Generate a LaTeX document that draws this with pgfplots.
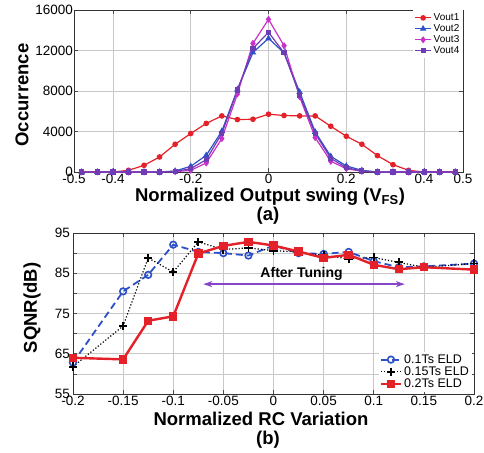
\documentclass[border=0pt]{standalone}
\usepackage{fontspec}
\setmainfont{Liberation Sans}
\usepackage{pgfplots}
\pgfplotsset{compat=1.18}
\usetikzlibrary{arrows.meta}
\definecolor{cred}{RGB}{228,32,40}
\definecolor{cblue}{RGB}{45,80,200}
\definecolor{cmag}{RGB}{200,50,200}
\definecolor{cpur}{RGB}{110,60,180}
\definecolor{carrow}{RGB}{135,70,200}
\definecolor{cgrid}{RGB}{200,200,200}
\begin{document}
\begin{tikzpicture}
\useasboundingbox (0pt,0pt) rectangle (484pt,-452pt);
\pgfplotsset{
  every axis/.append style={
    scale only axis,
    scaled y ticks=false, scaled x ticks=false,
    /pgf/number format/assume math mode=true,
    tick label style={font=\fontsize{13.5}{15}\selectfont},
    grid style={cgrid, line width=0.6pt},
    axis line style={line width=1pt, black!80},
    tick style={black!70, line width=0.6pt},
    major tick length=4pt,
    minor tick length=0pt,
    tick align=inside,
  }
}
\begin{axis}[
  at={(74pt,-172pt)}, anchor=south west,
  width=389pt, height=162pt,
  xmin=-0.5, xmax=0.5, ymin=0, ymax=16000,
  xtick={-0.5,-0.4,-0.2,0,0.2,0.4,0.5},
  xticklabels={-0.5,-0.4,-0.2,0,0.2,0.4,0.5},
  ytick={0,4000,8000,12000,16000},
  yticklabels={0,4000,8000,12000,16000},
  yticklabel style={inner sep=1pt},
  xticklabel style={inner sep=1.5pt},
  grid=major,
  legend style={at={(1,1)}, anchor=north east, draw=none, fill=white,
    font=\fontsize{10}{10}\selectfont, row sep=-1.5pt, inner sep=1.5pt,
    cells={anchor=west}},
  legend image code/.code={\draw[#1] (0pt,0pt) -- (16pt,0pt); \draw[#1] plot coordinates {(8pt,0pt)};},
  every axis plot/.append style={line width=1.2pt},
]
\addplot[cred, mark=*, mark size=2.2pt] coordinates {
(-0.48,0) (-0.44,0) (-0.40,0) (-0.36,165) (-0.32,660) (-0.28,1485) (-0.24,2740)
(-0.20,3800) (-0.16,4800) (-0.12,5540) (-0.08,5180) (-0.04,5210) (0,5710)
(0.04,5580) (0.08,5540) (0.12,5540) (0.16,4520) (0.20,3530) (0.24,2740)
(0.28,1620) (0.32,725) (0.36,165) (0.40,0) (0.44,0) (0.48,0)};
\addlegendentry{Vout1}
\addplot[cblue, mark=triangle*, mark size=2.6pt] coordinates {
(-0.48,0) (-0.44,0) (-0.40,0) (-0.36,0) (-0.32,0) (-0.28,0) (-0.24,100)
(-0.20,560) (-0.16,1650) (-0.12,4030) (-0.08,8150) (-0.04,11800) (0,13200)
(0.04,11770) (0.08,7900) (0.12,3960) (0.16,1550) (0.20,600) (0.24,165)
(0.28,0) (0.32,0) (0.36,0) (0.40,0) (0.44,0) (0.48,0)};
\addlegendentry{Vout2}
\addplot[cmag, mark=diamond*, mark size=2.6pt] coordinates {
(-0.48,0) (-0.44,0) (-0.40,0) (-0.36,0) (-0.32,0) (-0.28,0) (-0.24,30)
(-0.20,165) (-0.16,890) (-0.12,3300) (-0.08,7700) (-0.04,12700) (0,15080)
(0.04,12470) (0.08,7430) (0.12,3400) (0.16,1060) (0.20,330) (0.24,66)
(0.28,0) (0.32,0) (0.36,0) (0.40,0) (0.44,0) (0.48,0)};
\addlegendentry{Vout3}
\addplot[cpur, mark=square*, mark size=2pt] coordinates {
(-0.48,0) (-0.44,0) (-0.40,0) (-0.36,0) (-0.32,0) (-0.28,0) (-0.24,60)
(-0.20,330) (-0.16,1220) (-0.12,3800) (-0.08,8090) (-0.04,12200) (0,13800)
(0.04,11770) (0.08,7600) (0.12,3800) (0.16,1350) (0.20,430) (0.24,100)
(0.28,0) (0.32,0) (0.36,0) (0.40,0) (0.44,0) (0.48,0)};
\addlegendentry{Vout4}
\end{axis}

\begin{axis}[
  at={(73pt,-394pt)}, anchor=south west,
  width=401pt, height=161pt,
  xmin=-0.2, xmax=0.2, ymin=55, ymax=95,
  xtick={-0.2,-0.15,-0.1,-0.05,0,0.05,0.1,0.15,0.2},
  xticklabels={-0.2,-0.15,-0.1,-0.05,0,0.05,0.1,0.15,0.2},
  ytick={55,65,75,85,95},
  yticklabels={55,65,75,85,95},
  minor ytick={60,70,80,90},
  minor tick length=4pt,
  yticklabel style={inner sep=3pt},
  xticklabel style={inner sep=1.5pt},
  grid=both,
  minor grid style={cgrid, line width=0.6pt},
  legend style={at={(0.995,0.01)}, anchor=south east, draw=none, fill=white,
    font=\fontsize{12.5}{13}\selectfont, row sep=-2pt, inner sep=1pt,
    cells={anchor=west}},
  legend image code/.code={\draw[#1] (0pt,0pt) -- (20pt,0pt); \draw[#1] plot coordinates {(10pt,0pt)};},
]
\addplot[cblue, line width=1.8pt, dash pattern=on 7pt off 4pt, mark=o, mark size=3.3pt, mark options={solid, line width=1.6pt}] coordinates {
(-0.2,62.8) (-0.15,80.5) (-0.125,84.6) (-0.1,92.1) (-0.075,90.3) (-0.05,90.0)
(-0.025,89.4) (0,91.9) (0.025,90.0) (0.05,89.8) (0.075,90.3) (0.1,88.0)
(0.125,86.5) (0.15,86.7) (0.2,87.4)};
\addlegendentry{0.1Ts ELD}
\addplot[black, line width=1.2pt, dotted, mark=+, mark size=4.2pt, mark options={solid, line width=1.8pt}] coordinates {
(-0.2,61.8) (-0.15,71.9) (-0.125,88.8) (-0.1,85.3) (-0.075,92.8) (-0.05,90.9)
(-0.025,91.3) (0,90.6) (0.025,90.3) (0.05,89.4) (0.075,88.6) (0.1,88.9)
(0.125,87.7) (0.15,86.5) (0.2,87.4)};
\addlegendentry{0.15Ts ELD}
\addplot[cred, line width=2.4pt, mark=square*, mark size=3pt, mark options={solid}] coordinates {
(-0.2,64.0) (-0.15,63.6) (-0.125,73.2) (-0.1,74.3) (-0.075,89.9) (-0.05,91.8)
(-0.025,92.8) (0,91.9) (0.025,90.4) (0.05,88.8) (0.075,89.6) (0.1,87.1)
(0.125,86.0) (0.15,86.5) (0.2,85.9)};
\addlegendentry{0.2Ts ELD}
\draw[carrow, line width=1.3pt, {Stealth[length=9pt,width=6pt]}-{Stealth[length=9pt,width=6pt]}] (axis cs:-0.07,82.3) -- (axis cs:0.131,82.3);
\node[font=\bfseries\fontsize{14}{15}\selectfont] at (axis cs:0.028,84.9) {After Tuning};
\end{axis}

\node[rotate=90, font=\bfseries\fontsize{18.5}{20}\selectfont] at (22pt,-95pt) {Occurrence};
\node[font=\bfseries\fontsize{18.5}{20}\selectfont] at (270pt,-197pt) {Normalized Output swing (V\textsubscript{FS})};
\node[font=\bfseries\fontsize{18.5}{20}\selectfont] at (268pt,-216pt) {(a)};
\node[rotate=90, font=\bfseries\fontsize{18.5}{20}\selectfont] at (32pt,-308pt) {SQNR(dB)};
\node[font=\bfseries\fontsize{18.5}{20}\selectfont] at (261pt,-419pt) {Normalized RC Variation};
\node[font=\bfseries\fontsize{18.5}{20}\selectfont] at (268pt,-440pt) {(b)};
\end{tikzpicture}
\end{document}
